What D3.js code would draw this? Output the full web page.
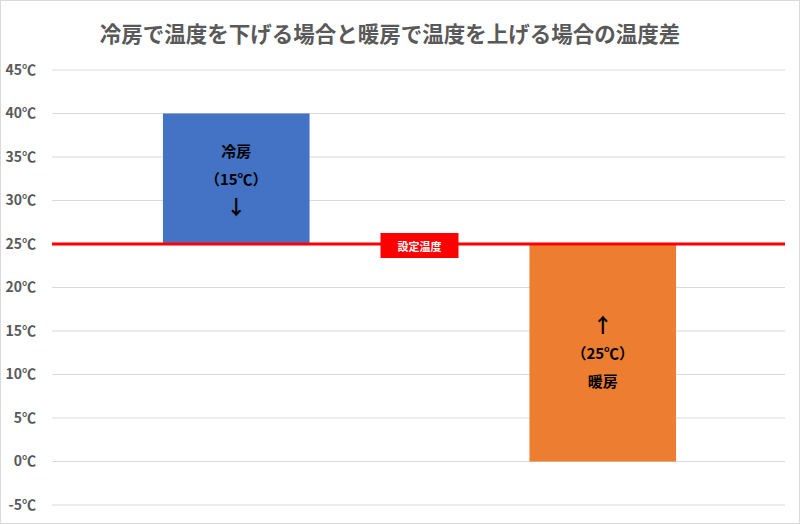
<!DOCTYPE html>
<html><head><meta charset="utf-8">
<script src="https://cdn.jsdelivr.net/npm/d3@7"></script>
<style>
html,body{margin:0;padding:0;background:#fff;}
svg text{font-family:"Noto Sans CJK JP","Noto Sans",sans-serif;}
</style></head>
<body><svg id="c" width="800" height="524"></svg>
<script>
const title = "冷房で温度を下げる場合と暖房で温度を上げる場合の温度差";
const categories = ["冷房", "暖房"];
const barBase = [25, 0];
const barTop = [40, 25];
const barColors = ["#4472C4", "#ED7D31"];
const barLabels = [["冷房", "（15℃）", "↓"], ["↑", "（25℃）", "暖房"]];
const setTemp = 25;
const setLabel = "設定温度";
const yTicks = [-5, 0, 5, 10, 15, 20, 25, 30, 35, 40, 45];

const svg = d3.select("#c");
const W = 800, H = 524;
const m = {left: 52, right: 15, top: 70, bottom: 19};

svg.append("rect").attr("x",0.5).attr("y",0.5).attr("width",W-1).attr("height",H-1)
  .attr("fill","#fff").attr("stroke","#d9d9d9");

const x = d3.scaleBand().domain(categories).range([m.left, W - m.right]).paddingInner(0.6).paddingOuter(0.3);
const y = d3.scaleLinear().domain([-5, 45]).range([H - m.bottom, m.top]);

// gridlines
svg.append("g").selectAll("line").data(yTicks).join("line")
  .attr("x1", m.left).attr("x2", W - m.right)
  .attr("y1", d => y(d)).attr("y2", d => y(d))
  .attr("stroke", "#d9d9d9").attr("stroke-width", 1);

// axis labels
const ax = svg.append("g").attr("transform", `translate(${m.left - 13},0)`)
  .call(d3.axisLeft(y).tickValues(yTicks).tickSize(0).tickFormat(d => d + "℃"));
ax.select(".domain").remove();
ax.selectAll("text").attr("fill", "#595959").attr("font-size", 14).attr("font-weight", "bold")
  .style("font-family", '"Noto Sans CJK JP",sans-serif');

// bars
svg.append("g").selectAll("rect").data(categories).join("rect")
  .attr("x", d => x(d) + 1).attr("width", x.bandwidth())
  .attr("y", (d,i) => y(barTop[i])).attr("height", (d,i) => y(barBase[i]) - y(barTop[i]))
  .attr("fill", (d,i) => barColors[i]);

// bar labels
categories.forEach((c, i) => {
  const cx = x(c) + 1 + x.bandwidth() / 2;
  const mid = (y(barTop[i]) + y(barBase[i])) / 2;
  barLabels[i].forEach((t, j) => {
    const isArrow = t === "↓" || t === "↑";
    svg.append("text").attr("x", cx).attr("y", mid + (j - 1) * 28)
      .attr("text-anchor", "middle").attr("dominant-baseline", "central")
      .attr("font-size", isArrow ? 20 : 15).attr("font-weight", "bold").attr("fill", "#000").text(t);
  });
});

// set temp line
svg.append("line").attr("x1", m.left).attr("x2", W - m.right)
  .attr("y1", y(setTemp)).attr("y2", y(setTemp))
  .attr("stroke", "#FF0000").attr("stroke-width", 3);

const lx = (x(categories[0]) + x.bandwidth() + x(categories[1])) / 2 + 1;
svg.append("rect").attr("x", lx - 39).attr("y", y(setTemp) - 11).attr("width", 78).attr("height", 25)
  .attr("fill", "#FF0000");
svg.append("text").attr("x", lx).attr("y", y(setTemp) + 1.5)
  .attr("text-anchor", "middle").attr("dominant-baseline", "central")
  .attr("font-size", 11).attr("font-weight", "bold").attr("fill", "#fff").text(setLabel);

// title
svg.append("text").attr("x", 390).attr("y", 32).attr("text-anchor", "middle")
  .attr("dominant-baseline", "central")
  .attr("font-size", 21.5).attr("font-weight", "bold").attr("fill", "#595959").text(title);
</script></body></html>
